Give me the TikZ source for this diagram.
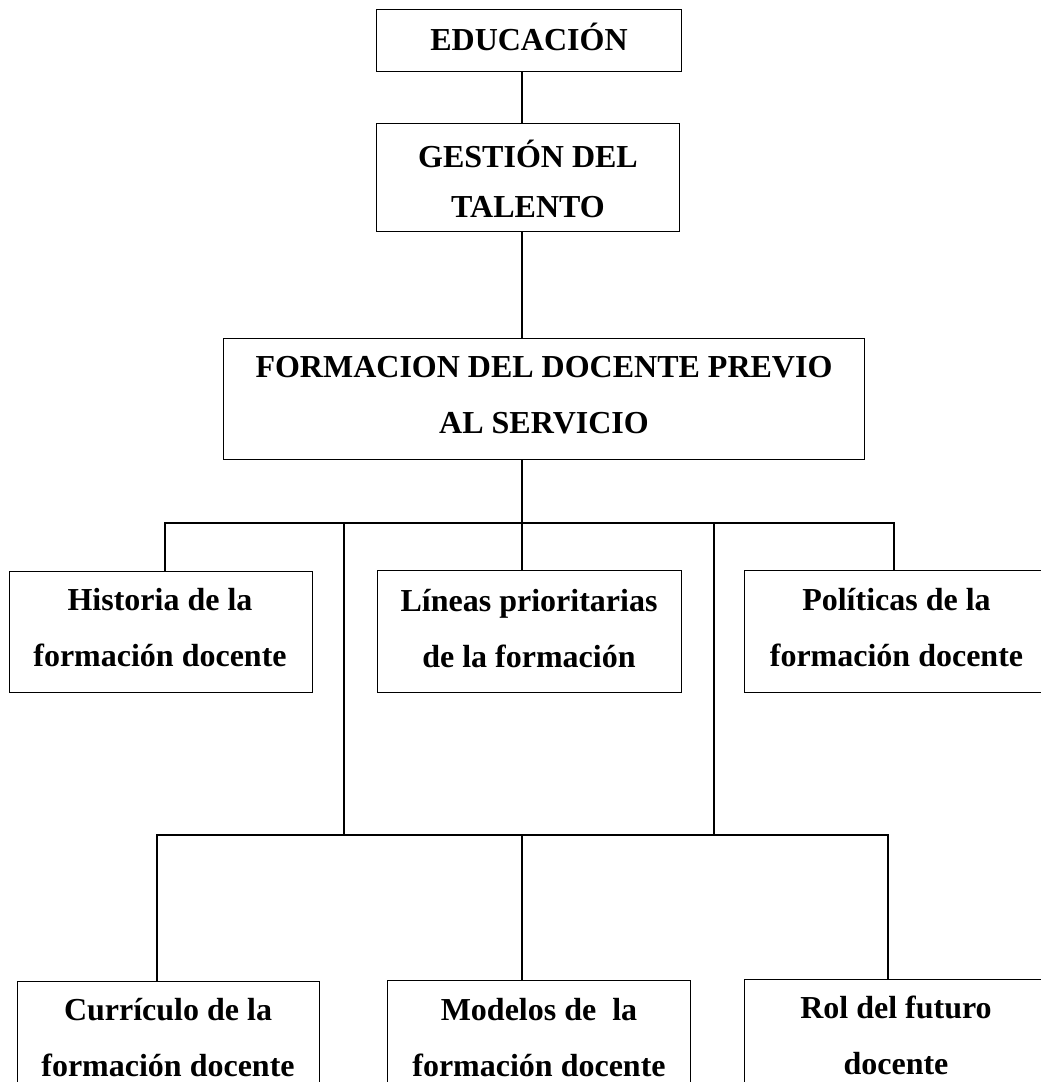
\documentclass[tikz,border=0pt]{standalone}
\usepackage{fontspec}
\setmainfont{Liberation Serif}
\begin{document}
\begin{tikzpicture}[x=1pt,y=-1pt,
  box/.style={draw,line width=1.2pt,inner sep=0pt,anchor=north west},
  conn/.style={line width=1.2pt},
  txt/.style={font=\fontsize{32}{56}\selectfont\bfseries,align=center,inner sep=0pt,anchor=base},
  txtg/.style={txt,font=\fontsize{32}{50}\selectfont\bfseries}]
\useasboundingbox (0,0) rectangle (1041,1082);
\clip (0,0) rectangle (1041,1082);
% boxes
\node[box,minimum width=305pt,minimum height=62pt]  (edu)  at (376,9)   {};
\node[box,minimum width=303pt,minimum height=108pt] (gest) at (376,123) {};
\node[box,minimum width=641pt,minimum height=121pt] (form) at (223,338) {};
\node[box,minimum width=303pt,minimum height=121pt] (hist) at (9,571)   {};
\node[box,minimum width=304pt,minimum height=122pt] (lin)  at (377,570) {};
\node[box,minimum width=305pt,minimum height=122pt] (pol)  at (744,570) {};
\node[box,minimum width=302pt,minimum height=120pt] (cur)  at (17,981)  {};
\node[box,minimum width=303pt,minimum height=120pt] (mod)  at (387,980) {};
\node[box,minimum width=305pt,minimum height=120pt] (rol)  at (744,979) {};
% texts (base anchor = baseline of the last line)
\node[txt]  (edut)  at (529,50)    {EDUCACIÓN};
\node[txtg] (gestt) at (528,217)   {GESTIÓN DEL\\TALENTO};
\node[txt]  (formt) at (544,433)   {FORMACION DEL DOCENTE PREVIO\\AL SERVICIO};
\node[txt]  (histt) at (160,666)   {Historia de la\\formación docente};
\node[txt]  (lint)  at (529,667)   {Líneas prioritarias\\de la formación};
\node[txt]  (polt)  at (896.5,666) {Políticas de la\\formación docente};
\node[txt]  (curt)  at (168,1076)  {Currículo de la\\formación docente};
\node[txt]  (modt)  at (539,1076)  {Modelos de\ \ la\\formación docente};
\node[txt]  (rolt)  at (896,1074)  {Rol del futuro\\docente};
% connector columns and buses
\coordinate (cx)  at (522,0);
\coordinate (hx)  at (165,0);
\coordinate (px)  at (894,0);
\coordinate (lx)  at (344,0);
\coordinate (rx)  at (714,0);
\coordinate (c1x) at (157,0);
\coordinate (c3x) at (888,0);
\coordinate (bus1) at (0,523);
\coordinate (bus2) at (0,835);
\draw[conn] (cx |- edu.south) -- (cx |- gest.north);
\draw[conn] (cx |- gest.south) -- (cx |- form.north);
\draw[conn] (cx |- form.south) -- (cx |- bus1);
\draw[conn] (hx |- hist.north) -- (hx |- bus1) -- (px |- bus1) -- (px |- pol.north);
\draw[conn] (cx |- bus1) -- (cx |- lin.north);
\draw[conn] (lx |- bus1) -- (lx |- bus2);
\draw[conn] (rx |- bus1) -- (rx |- bus2);
\draw[conn] (c1x |- cur.north) -- (c1x |- bus2) -- (c3x |- bus2) -- (c3x |- rol.north);
\draw[conn] (cx |- bus2) -- (cx |- mod.north);
\end{tikzpicture}
\end{document}
